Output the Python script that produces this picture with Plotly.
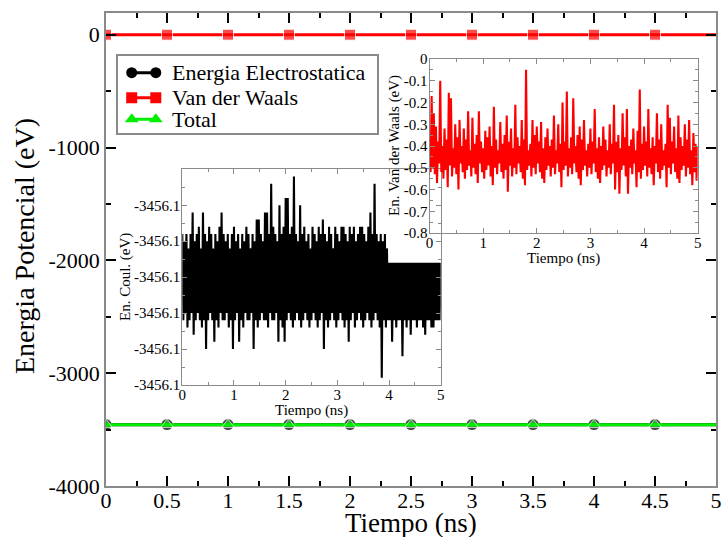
import plotly.graph_objects as go

# ---------------- main plot data ----------------
tiempo_main = [0.0, 0.5, 1.0, 1.5, 2.0, 2.5, 3.0, 3.5, 4.0, 4.5, 5.0]
energia_elec = [-3456.1, -3456.1, -3456.1, -3456.1, -3456.1, -3456.1, -3456.1, -3456.1, -3456.1, -3456.1, -3456.1]
energia_vdw = [-0.45, -0.45, -0.45, -0.45, -0.45, -0.45, -0.45, -0.45, -0.45, -0.45, -0.45]
energia_total = [-3456.55, -3456.55, -3456.55, -3456.55, -3456.55, -3456.55, -3456.55, -3456.55, -3456.55, -3456.55, -3456.55]

serie_nombres = ["Energia Electrostatica", "Van der Waals", "Total"]

main_y_ticks = [0, -1000, -2000, -3000, -4000]
main_y_labels = ["0", "-1000", "-2000", "-3000", "-4000"]
main_y_minor = [-500, -1500, -2500, -3500]

# ---------------- inset: Coulomb energy ----------------
coul = [
    -3456.088, -3456.112, -3456.090, -3456.110, -3456.088, -3456.114, -3456.092, -3456.112, -3456.088, -3456.110,
    -3456.082, -3456.116, -3456.090, -3456.112, -3456.088, -3456.110, -3456.086, -3456.112, -3456.092, -3456.114,
    -3456.082, -3456.112, -3456.088, -3456.120, -3456.090, -3456.112, -3456.086, -3456.110, -3456.088, -3456.112,
    -3456.092, -3456.118, -3456.088, -3456.112, -3456.090, -3456.114, -3456.086, -3456.110, -3456.082, -3456.112,
    -3456.088, -3456.112, -3456.090, -3456.110, -3456.088, -3456.114, -3456.092, -3456.112, -3456.088, -3456.120,
    -3456.086, -3456.112, -3456.090, -3456.110, -3456.088, -3456.118, -3456.092, -3456.112, -3456.088, -3456.114,
    -3456.090, -3456.110, -3456.086, -3456.112, -3456.088, -3456.112, -3456.092, -3456.110, -3456.088, -3456.120,
    -3456.090, -3456.112, -3456.084, -3456.114, -3456.084, -3456.112, -3456.088, -3456.110, -3456.090, -3456.112,
    -3456.082, -3456.112, -3456.082, -3456.114, -3456.088, -3456.110, -3456.074, -3456.112, -3456.086, -3456.112,
    -3456.088, -3456.110, -3456.090, -3456.118, -3456.080, -3456.112, -3456.088, -3456.114, -3456.086, -3456.118,
    -3456.078, -3456.112, -3456.078, -3456.110, -3456.088, -3456.112, -3456.086, -3456.114, -3456.072, -3456.112,
    -3456.088, -3456.110, -3456.090, -3456.112, -3456.080, -3456.114, -3456.088, -3456.112, -3456.086, -3456.110,
    -3456.090, -3456.112, -3456.088, -3456.114, -3456.092, -3456.112, -3456.086, -3456.110, -3456.088, -3456.112,
    -3456.090, -3456.114, -3456.086, -3456.112, -3456.088, -3456.110, -3456.084, -3456.120, -3456.088, -3456.112,
    -3456.090, -3456.114, -3456.086, -3456.112, -3456.088, -3456.110, -3456.092, -3456.112, -3456.086, -3456.114,
    -3456.088, -3456.112, -3456.090, -3456.110, -3456.086, -3456.112, -3456.086, -3456.114, -3456.088, -3456.112,
    -3456.090, -3456.118, -3456.086, -3456.112, -3456.088, -3456.110, -3456.086, -3456.114, -3456.090, -3456.112,
    -3456.088, -3456.110, -3456.086, -3456.112, -3456.086, -3456.114, -3456.088, -3456.112, -3456.090, -3456.110,
    -3456.086, -3456.112, -3456.082, -3456.114, -3456.088, -3456.112, -3456.074, -3456.110, -3456.088, -3456.112,
    -3456.090, -3456.114, -3456.088, -3456.128, -3456.090, -3456.112, -3456.088, -3456.114, -3456.092, -3456.112,
    -3456.096, -3456.112, -3456.096, -3456.118, -3456.096, -3456.112, -3456.096, -3456.114, -3456.096, -3456.112,
    -3456.096, -3456.112, -3456.096, -3456.122, -3456.096, -3456.112, -3456.096, -3456.114, -3456.096, -3456.112,
    -3456.096, -3456.116, -3456.096, -3456.112, -3456.096, -3456.112, -3456.096, -3456.114, -3456.096, -3456.112,
    -3456.096, -3456.112, -3456.096, -3456.114, -3456.096, -3456.116, -3456.096, -3456.112, -3456.096, -3456.112,
    -3456.096, -3456.114, -3456.096, -3456.114, -3456.096, -3456.112, -3456.096, -3456.112, -3456.096, -3456.112,
    -3456.096,
]
coul_y_ticks = [-3456.13, -3456.12, -3456.11, -3456.10, -3456.09, -3456.08, -3456.07]
coul_y_labels = ["-3456.1", "-3456.1", "-3456.1", "-3456.1", "-3456.1", "-3456.1", ""]
coul_y_minor = [-3456.125, -3456.115, -3456.105, -3456.095, -3456.085, -3456.075]

# ---------------- inset: Van der Waals energy ----------------
vdw = [
    -0.42, -0.52, -0.17, -0.50, -0.25, -0.53, -0.31, -0.57, -0.38, -0.48,
    -0.10, -0.52, -0.40, -0.55, -0.32, -0.51, -0.37, -0.59, -0.155, -0.49,
    -0.18, -0.54, -0.41, -0.50, -0.30, -0.53, -0.36, -0.60, -0.28, -0.48,
    -0.40, -0.52, -0.32, -0.55, -0.37, -0.51, -0.24, -0.49, -0.42, -0.54,
    -0.27, -0.50, -0.39, -0.53, -0.35, -0.57, -0.24, -0.48, -0.38, -0.52,
    -0.41, -0.55, -0.33, -0.51, -0.36, -0.49, -0.31, -0.54, -0.40, -0.58,
    -0.22, -0.50, -0.37, -0.53, -0.42, -0.48, -0.29, -0.52, -0.39, -0.55,
    -0.35, -0.51, -0.26, -0.61, -0.38, -0.49, -0.32, -0.54, -0.41, -0.50,
    -0.21, -0.53, -0.36, -0.48, -0.40, -0.52, -0.28, -0.55, -0.37, -0.58,
    -0.05, -0.51, -0.42, -0.49, -0.39, -0.54, -0.28, -0.50, -0.35, -0.53,
    -0.31, -0.48, -0.38, -0.52, -0.29, -0.55, -0.41, -0.57, -0.36, -0.51,
    -0.32, -0.49, -0.40, -0.54, -0.37, -0.50, -0.26, -0.53, -0.42, -0.48,
    -0.30, -0.52, -0.39, -0.59, -0.20, -0.51, -0.38, -0.49, -0.15, -0.54,
    -0.41, -0.50, -0.36, -0.53, -0.18, -0.48, -0.40, -0.52, -0.35, -0.55,
    -0.31, -0.58, -0.37, -0.51, -0.28, -0.49, -0.42, -0.54, -0.39, -0.50,
    -0.32, -0.53, -0.38, -0.48, -0.23, -0.52, -0.41, -0.55, -0.36, -0.57,
    -0.40, -0.51, -0.31, -0.49, -0.37, -0.54, -0.42, -0.50, -0.30, -0.53,
    -0.39, -0.48, -0.21, -0.60, -0.38, -0.52, -0.35, -0.62, -0.41, -0.51,
    -0.25, -0.49, -0.36, -0.54, -0.23, -0.62, -0.40, -0.50, -0.37, -0.53,
    -0.32, -0.48, -0.42, -0.59, -0.33, -0.52, -0.14, -0.55, -0.39, -0.51,
    -0.31, -0.49, -0.38, -0.54, -0.23, -0.50, -0.41, -0.53, -0.36, -0.58,
    -0.40, -0.48, -0.25, -0.52, -0.37, -0.55, -0.30, -0.51, -0.42, -0.49,
    -0.39, -0.59, -0.21, -0.50, -0.27, -0.53, -0.38, -0.48, -0.31, -0.52,
    -0.41, -0.55, -0.26, -0.57, -0.36, -0.51, -0.40, -0.49, -0.30, -0.54,
    -0.37, -0.50, -0.28, -0.53, -0.42, -0.58, -0.34, -0.52, -0.39, -0.56,
    -0.40,
]
vdw_y_ticks = [0, -0.1, -0.2, -0.3, -0.4, -0.5, -0.6, -0.7, -0.8]
vdw_y_labels = ["0", "-0.1", "-0.2", "-0.3", "-0.4", "-0.5", "-0.6", "-0.7", "-0.8"]
vdw_y_minor = [-0.05, -0.15, -0.25, -0.35, -0.45, -0.55, -0.65, -0.75]

# sampling grid of the inset time series (every 0.02 ns)
tiempo_coul = [round(0.02 * i, 2) for i in range(len(coul))]
tiempo_vdw = [round(0.02 * i, 2) for i in range(len(vdw))]

# ---------------- styling ----------------
W, H = 722, 537
SERIF = "Liberation Serif, Times New Roman, serif"
FRAME = "#8a8a8a"
COL_ELEC, COL_VDW, COL_TOT = "black", "#ff0000", "#00ee00"


def px_x(p):
    return p / W


def px_y(p):
    return 1 - p / H


fig = go.Figure()

# main traces (markers on the first ten samples, line to the end)
fig.add_trace(go.Scatter(x=tiempo_main, y=energia_elec, mode="lines+markers", name=serie_nombres[0],
                         line=dict(color=COL_ELEC, width=3),
                         marker=dict(symbol="circle", size=[12] * 10 + [0], color=COL_ELEC),
                         xaxis="x", yaxis="y"))
fig.add_trace(go.Scatter(x=tiempo_main, y=energia_vdw, mode="lines+markers", name=serie_nombres[1],
                         line=dict(color=COL_VDW, width=3),
                         marker=dict(symbol="square", size=[11] * 10 + [0], color=COL_VDW),
                         xaxis="x", yaxis="y"))
fig.add_trace(go.Scatter(x=tiempo_main, y=energia_total, mode="lines+markers", name=serie_nombres[2],
                         line=dict(color=COL_TOT, width=3),
                         marker=dict(symbol="triangle-up", size=[11] * 10 + [0], color=COL_TOT),
                         xaxis="x", yaxis="y"))

# inset traces
fig.add_trace(go.Scatter(x=tiempo_coul, y=coul, mode="lines",
                         line=dict(color="black", width=2.1, simplify=False),
                         xaxis="x2", yaxis="y2"))
fig.add_trace(go.Scatter(x=tiempo_vdw, y=vdw, mode="lines",
                         line=dict(color=COL_VDW, width=2.1, simplify=False),
                         xaxis="x3", yaxis="y3"))

# custom Grace-style legend (glyph: symbol - line - symbol)
leg_rows = [60.6, 35.5, 14.0]
leg_glyph_x = [13.4, 37.5]
leg_styles = [("circle", COL_ELEC, 11), ("square", COL_VDW, 11), ("triangle-up", COL_TOT, 12)]
for row, (sym, col, sz) in zip(leg_rows, leg_styles):
    fig.add_trace(go.Scatter(x=leg_glyph_x, y=[row, row], mode="lines+markers",
                             line=dict(color=col, width=3),
                             marker=dict(symbol=sym, size=sz, color=col),
                             xaxis="x4", yaxis="y4", hoverinfo="skip"))

main_font = dict(family=SERIF, size=22, color="black")
inset_font = dict(family=SERIF, size=15, color="black")

common_main = dict(showgrid=False, zeroline=False, showline=True, linecolor=FRAME, linewidth=1.5,
                   mirror="allticks", ticks="inside", ticklen=10, tickwidth=1.5, tickcolor="black",
                   tickfont=main_font, automargin=False)
common_inset = dict(showgrid=False, zeroline=False, showline=True, linecolor=FRAME, linewidth=1,
                    mirror="allticks", ticks="inside", ticklen=5, tickwidth=1, tickcolor=FRAME,
                    tickfont=inset_font, automargin=False)

layout_axes = dict(
    xaxis=dict(domain=[px_x(106), px_x(716)], range=[0, 5], tick0=0, dtick=0.5, anchor="y",
               ticklabelstandoff=-6,
               minor=dict(dtick=0.25, tick0=0, ticks="inside", ticklen=5, tickwidth=1.5, tickcolor="black"),
               **common_main),
    yaxis=dict(domain=[px_y(486), px_y(13)], range=[-4000, 192], tickmode="array",
               tickvals=main_y_ticks, ticktext=main_y_labels, anchor="x",
               minor=dict(tickmode="array", tickvals=main_y_minor, ticks="inside", ticklen=5,
                          tickwidth=1.5, tickcolor="black"),
               **common_main),
    xaxis2=dict(domain=[px_x(182.3), px_x(440.7)], range=[0, 5], tick0=0, dtick=1, anchor="y2",
                ticklabelstandoff=-4,
                minor=dict(dtick=0.5, tick0=0, ticks="inside", ticklen=3, tickcolor=FRAME),
                **common_inset),
    yaxis2=dict(domain=[px_y(385), px_y(169.3)], range=[-3456.13, -3456.07], tickmode="array",
                tickvals=coul_y_ticks, ticktext=coul_y_labels, anchor="x2", ticklabelstandoff=-2,
                minor=dict(tickmode="array", tickvals=coul_y_minor, ticks="inside", ticklen=3, tickcolor=FRAME),
                **common_inset),
    xaxis3=dict(domain=[px_x(429.5), px_x(697.7)], range=[0, 5], tick0=0, dtick=1, anchor="y3",
                ticklabelstandoff=-4,
                minor=dict(dtick=0.5, tick0=0, ticks="inside", ticklen=3, tickcolor=FRAME),
                **common_inset),
    yaxis3=dict(domain=[px_y(233), px_y(59)], range=[-0.8, 0], tickmode="array",
                tickvals=vdw_y_ticks, ticktext=vdw_y_labels, anchor="x3", ticklabelstandoff=-2,
                minor=dict(tickmode="array", tickvals=vdw_y_minor, ticks="inside", ticklen=3, tickcolor=FRAME),
                **common_inset),
    xaxis4=dict(domain=[px_x(118.3), px_x(376.7)], range=[0, 258.4], anchor="y4", showgrid=False,
                zeroline=False, showticklabels=False, ticks="", showline=True, linecolor=FRAME,
                linewidth=1.5, mirror=True, fixedrange=True, automargin=False),
    yaxis4=dict(domain=[px_y(133.3), px_y(56)], range=[0, 77.3], anchor="x4", showgrid=False,
                zeroline=False, showticklabels=False, ticks="", showline=True, linecolor=FRAME,
                linewidth=1.5, mirror=True, fixedrange=True, automargin=False),
)

annotations = []
# legend texts
for row, name in zip(leg_rows, serie_nombres):
    annotations.append(dict(xref="x4", yref="y4", x=51.7, y=row, text=name, showarrow=False,
                            xanchor="left", yanchor="middle", font=dict(family=SERIF, size=22, color="black")))
# axis titles
annotations += [
    dict(xref="paper", yref="paper", x=px_x(411), y=0, text="Tiempo (ns)", showarrow=False,
         xanchor="center", yanchor="bottom", borderpad=0, yshift=-2,
         font=dict(family=SERIF, size=27, color="black")),
    dict(xref="paper", yref="paper", x=px_x(24), y=px_y(246), text="Energia Potencial (eV)", showarrow=False,
         textangle=-90, xanchor="center", yanchor="middle", font=dict(family=SERIF, size=28, color="black")),
    dict(xref="paper", yref="paper", x=px_x(311.5), y=px_y(410), text="Tiempo (ns)", showarrow=False,
         xanchor="center", yanchor="middle", borderpad=0, font=inset_font),
    dict(xref="paper", yref="paper", x=px_x(125), y=px_y(277), text="En. Coul. (eV)", showarrow=False,
         textangle=-90, xanchor="center", yanchor="middle", font=inset_font),
    dict(xref="paper", yref="paper", x=px_x(563.6), y=px_y(258), text="Tiempo (ns)", showarrow=False,
         xanchor="center", yanchor="middle", borderpad=0, font=inset_font),
    dict(xref="paper", yref="paper", x=px_x(394), y=px_y(146), text="En. Van der Waals (eV)", showarrow=False,
         textangle=-90, xanchor="center", yanchor="middle", font=inset_font),
]

fig.update_layout(width=W, height=H, margin=dict(l=0, r=0, t=0, b=0, pad=0, autoexpand=False),
                  autosize=False, paper_bgcolor="white", plot_bgcolor="rgba(0,0,0,0)", showlegend=False,
                  annotations=annotations, **layout_axes)

fig.write_html("out.html", include_plotlyjs=True, config={"responsive": False})
